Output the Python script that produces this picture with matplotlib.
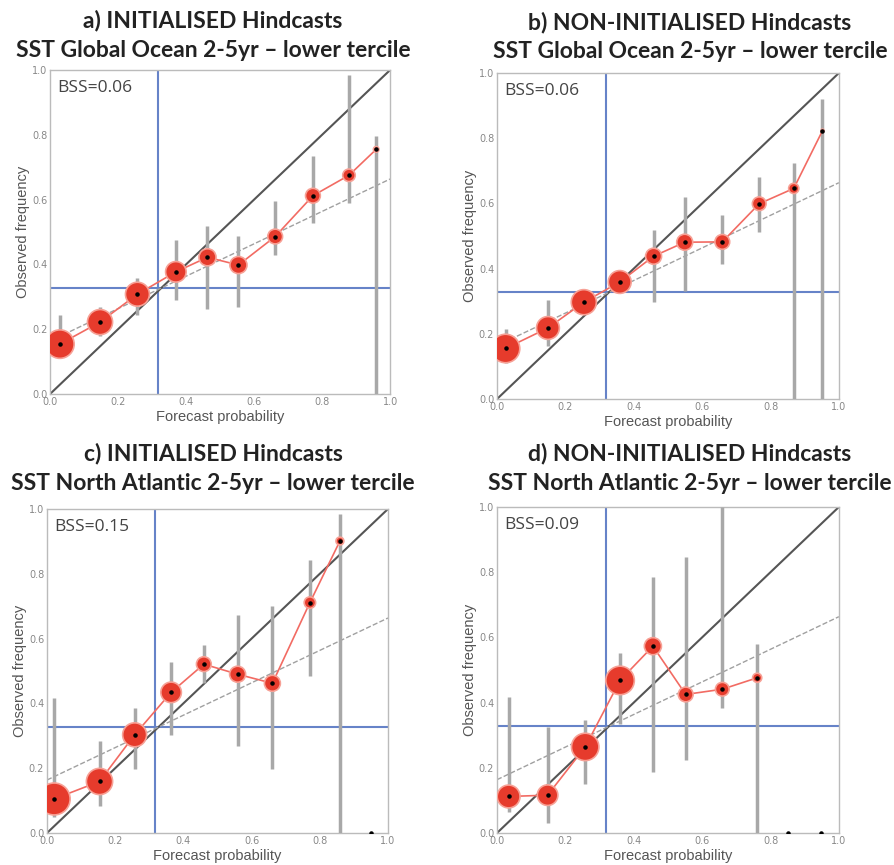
import numpy as np
import matplotlib.pyplot as plt

# Reliability diagrams, SST lower tercile, 2-5yr hindcasts
fc_prob_a = [0.029, 0.147, 0.257, 0.370, 0.463, 0.554, 0.662, 0.773, 0.879, 0.959]
obs_freq_a = [0.154, 0.222, 0.308, 0.377, 0.422, 0.398, 0.486, 0.612, 0.675, 0.755]
ci_low_a = [0.11, 0.178, 0.245, 0.289, 0.262, 0.270, 0.430, 0.527, 0.589, 0.0]
ci_high_a = [0.245, 0.270, 0.358, 0.476, 0.520, 0.488, 0.597, 0.733, 0.985, 0.795]
n_fc_a = [156, 121, 110, 81, 56, 56, 42, 42, 30, 6]

fc_prob_b = [0.025, 0.149, 0.254, 0.359, 0.458, 0.549, 0.659, 0.767, 0.868, 0.952]
obs_freq_b = [0.155, 0.218, 0.297, 0.359, 0.438, 0.481, 0.482, 0.599, 0.646, 0.823]
ci_low_b = [0.11, 0.162, 0.275, 0.335, 0.297, 0.330, 0.415, 0.511, 0.0, 0.0]
ci_high_b = [0.215, 0.303, 0.320, 0.370, 0.519, 0.620, 0.565, 0.681, 0.724, 0.920]
n_fc_b = [156, 100, 121, 100, 49, 49, 42, 36, 20, 2]

fc_prob_c = [0.021, 0.154, 0.257, 0.364, 0.460, 0.559, 0.661, 0.771, 0.859, 0.951]
obs_freq_c = [0.105, 0.159, 0.303, 0.434, 0.521, 0.490, 0.462, 0.711, 0.901, np.nan]
ci_low_c = [0.05, 0.084, 0.197, 0.303, 0.462, 0.267, 0.197, 0.483, 0.0, np.nan]
ci_high_c = [0.416, 0.283, 0.385, 0.529, 0.581, 0.673, 0.701, 0.843, 0.985, np.nan]
n_fc_c = [196, 132, 110, 81, 42, 49, 49, 25, 12, 1]

fc_prob_d = [0.034, 0.148, 0.258, 0.360, 0.456, 0.552, 0.659, 0.761, 0.850, 0.949]
obs_freq_d = [0.112, 0.116, 0.264, 0.468, 0.573, 0.425, 0.441, 0.476, np.nan, np.nan]
ci_low_d = [0.064, 0.031, 0.149, 0.335, 0.187, 0.223, 0.384, 0.0, np.nan, np.nan]
ci_high_d = [0.417, 0.325, 0.346, 0.552, 0.785, 0.847, 1.0, 0.581, np.nan, np.nan]
n_fc_d = [100, 81, 144, 156, 56, 42, 36, 16, 1, 1]

bss = ['BSS=0.06', 'BSS=0.06', 'BSS=0.15', 'BSS=0.09']
titulos = ['a) INITIALISED Hindcasts\nSST Global Ocean 2-5yr \u2013 lower tercile',
           'b) NON-INITIALISED Hindcasts\nSST Global Ocean 2-5yr \u2013 lower tercile',
           'c) INITIALISED Hindcasts\nSST North Atlantic 2-5yr \u2013 lower tercile',
           'd) NON-INITIALISED Hindcasts\nSST North Atlantic 2-5yr \u2013 lower tercile']

clim_obs = 0.327
clim_fc = 0.318

paneles = [
    (fc_prob_a, obs_freq_a, ci_low_a, ci_high_a, n_fc_a),
    (fc_prob_b, obs_freq_b, ci_low_b, ci_high_b, n_fc_b),
    (fc_prob_c, obs_freq_c, ci_low_c, ci_high_c, n_fc_c),
    (fc_prob_d, obs_freq_d, ci_low_d, ci_high_d, n_fc_d),
]

# posiciones de los ejes en fraccion de figura
posiciones = [
    [0.0559, 0.5445, 0.380, 0.3746],
    [0.5553, 0.5387, 0.382, 0.3769],
    [0.0525, 0.0370, 0.381, 0.3746],
    [0.5553, 0.0370, 0.382, 0.3769],
]
titulo_y = [0.989, 0.987, 0.488, 0.488]
titulo_x = [0.238, 0.771, 0.238, 0.771]

fig = plt.figure(figsize=(8.95, 8.65), dpi=100)

for i, (xs, ys, lo, hi, n) in enumerate(paneles):
    ax = fig.add_axes(posiciones[i])
    xs = np.array(xs); ys = np.array(ys, dtype=float)
    lo = np.array(lo, dtype=float); hi = np.array(hi, dtype=float)
    n = np.array(n, dtype=float)

    # lineas de referencia
    ax.plot([0, 1], [0, 1], color='#555555', lw=1.5, zorder=2)
    ax.plot([0, 1], [(0 + clim_obs) / 2, (1 + clim_obs) / 2], color='#a0a0a0', lw=1.0,
            ls='--', zorder=2)
    ax.axhline(clim_obs, color='#6683c8', lw=1.5, zorder=1)
    ax.axvline(clim_fc, color='#6683c8', lw=1.5, zorder=1)

    # barras de error
    ax.vlines(xs, lo, hi, color='#a8a8a8', lw=2.5, zorder=3)

    # curva de fiabilidad
    ok = ~np.isnan(ys)
    ax.plot(xs[ok], ys[ok], color='#f26b63', lw=1.2, zorder=4)
    ax.scatter(xs[ok], ys[ok], s=n[ok] * 2.7, color='#e63b2c', edgecolors='#f7a196',
               linewidths=1.2, zorder=5)
    ax.scatter(xs, np.nan_to_num(ys), s=5, color='black', zorder=6)

    ax.text(0.02, 0.945, bss[i], transform=ax.transAxes, fontsize=12.5, color='#444444',
            va='center', ha='left', family='Open Sans')

    ax.set_xlim(0, 1)
    ax.set_ylim(0, 1)
    ax.set_xticks(np.arange(0, 1.01, 0.2))
    ax.set_yticks(np.arange(0, 1.01, 0.2))
    ax.tick_params(length=0, labelsize=7, labelcolor='#888888', pad=2)
    for sp in ax.spines.values():
        sp.set_color('#bbbbbb')
        sp.set_linewidth(1.0)
    ax.set_xlabel('Forecast probability', fontsize=10.5, color='#555555', labelpad=2,
                  family='Liberation Sans')
    ax.set_ylabel('Observed frequency', fontsize=10.5, color='#555555', labelpad=1,
                  family='Liberation Sans')

    fig.text(titulo_x[i], titulo_y[i], titulos[i], ha='center', va='top', fontsize=16.5,
             fontweight='bold', family='Lato', linespacing=1.5, color='#222222')

plt.savefig('out.png', dpi=100)
